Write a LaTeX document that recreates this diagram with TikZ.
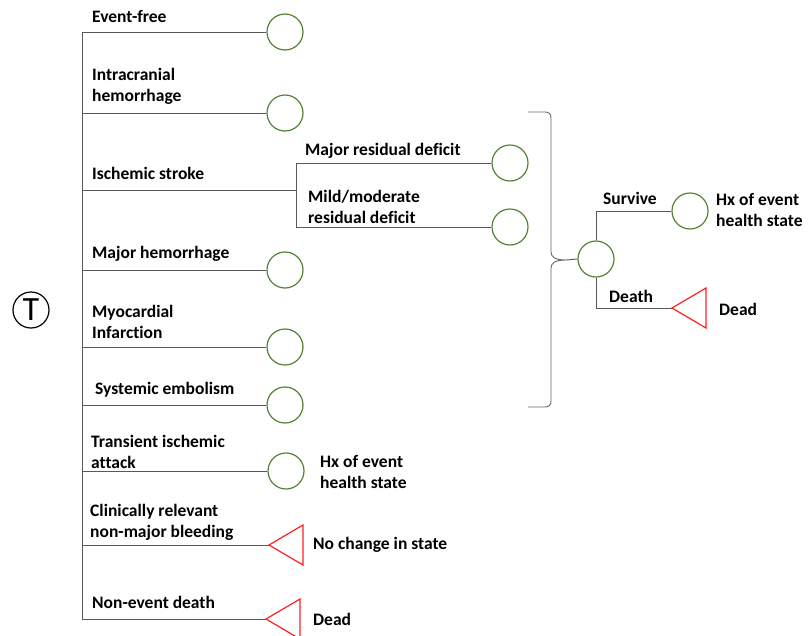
\documentclass[tikz,border=0pt]{standalone}
\usepackage{fontspec}
\setmainfont{Carlito}[Ligatures=NoCommon]
\usepackage{xcolor}
\definecolor{chgreen}{RGB}{84,130,53}
\definecolor{termred}{RGB}{255,30,30}

\begin{document}
\begin{tikzpicture}[x=1pt, y=-1pt,
    line/.style={draw=black!65, line width=0.9pt},
    chance/.style={circle, draw=chgreen, line width=1.2pt, minimum size=36pt, inner sep=0pt},
    term/.style={draw=termred, line width=1.2pt},
    lbl/.style={anchor=west, align=left, inner sep=0pt, font=\fontsize{17.5}{21}\selectfont\bfseries}]
  \useasboundingbox (0,0) rectangle (809,635);

  % root of the tree
  \node[circle, draw, line width=1.2pt, minimum size=36pt, inner sep=0pt,
        font=\fontsize{34}{34}\selectfont] (root) at (31,310) {T};
  \coordinate (top) at (82,32);
  \coordinate (bot) at (82,619);
  \draw[line] (top) -- (bot);

  % first-level outcomes
  \node[chance] (EF)   at (285,32)  {};
  \node[chance] (ICH)  at (285,113) {};
  \coordinate   (IS)   at (296,190);
  \node[chance] (MRD)  at (510,163) {};
  \node[chance] (MILD) at (510,227) {};
  \node[chance] (MH)   at (285,270) {};
  \node[chance] (MI)   at (285,347) {};
  \node[chance] (SE)   at (285,405) {};
  \node[chance] (TIA)  at (286,471) {};
  \coordinate   (CRB)  at (269,545);
  \coordinate   (NED)  at (266,619);

  \draw[line] (EF.west)  -- (EF.west -| top);
  \draw[line] (ICH.west) -- (ICH.west -| top);
  \draw[line] (IS) -- (IS -| top);
  \draw[line] (MRD.west) -- (MRD.west -| IS) -- (MILD.west -| IS) -- (MILD.west);
  \draw[line] (MH.west)  -- (MH.west -| top);
  \draw[line] (MI.west)  -- (MI.west -| top);
  \draw[line] (SE.west)  -- (SE.west -| top);
  \draw[line] (TIA.west) -- (TIA.west -| top);
  \draw[line] (CRB) -- (CRB -| top);
  \draw[line] (NED) -- (NED -| top);
  \draw[term] (CRB) -- ++(34,-20) -- ++(0,40) -- cycle;
  \draw[term] (NED) -- ++(34,-20) -- ++(0,40) -- cycle;

  \node[lbl] (lEF)   at (92,16)  {Event-free};
  \node[lbl] (lICH)  at (92,86)  {Intracranial\\hemorrhage};
  \node[lbl] (lIS)   at (92,173) {Ischemic stroke};
  \node[lbl] (lMRD)  at (305,151) {Major residual deficit};
  \node[lbl] (lMILD) at (308,207) {Mild/moderate\\residual deficit};
  \node[lbl] (lMH)   at (92,254) {Major hemorrhage};
  \node[lbl] (lMI)   at (92,322) {Myocardial\\Infarction};
  \node[lbl] (lSE)   at (95,390) {Systemic embolism};
  \node[lbl] (lTIA)  at (91,452) {Transient ischemic\\attack};
  \node[lbl] (lHX1)  at (320,472) {Hx of event\\health state};
  \node[lbl] (lCRB)  at (90,522) {Clinically relevant\\non-major bleeding};
  \node[lbl] (lNC)   at (313,545) {No change in state};
  \node[lbl] (lNED)  at (92,602) {Non-event death};
  \node[lbl] (lD1)   at (313,619) {Dead};

  % brace gathering the events
  \coordinate (tip) at (566,260);
  \draw[draw=black!60, line width=0.9pt]
    (528,112) -- (545,112) .. controls (549,112) and (551,114) .. (551,118)
    -- (551,252) .. controls (551,257) and (555,260) .. (tip)
    .. controls (555,260) and (551,263) .. (551,268)
    -- (551,401) .. controls (551,405) and (549,407) .. (545,407) -- (528,407);

  % survive or die
  \node[chance] (PS) at (596,259) {};
  \node[chance] (HX) at (690,211) {};
  \coordinate   (DTH) at (672,308);
  \draw[line] (tip) -- (PS.west);
  \draw[line] (PS.north) |- (HX.west);
  \draw[line] (PS.south) |- (DTH);
  \draw[term] (DTH) -- ++(34,-20) -- ++(0,40) -- cycle;

  \node[lbl] (lSV)  at (603,198) {Survive};
  \node[lbl] (lDT)  at (609,296) {Death};
  \node[lbl] (lHX2) at (716,210) {Hx of event\\health state};
  \node[lbl] (lD2)  at (719,309) {Dead};
\end{tikzpicture}
\end{document}
